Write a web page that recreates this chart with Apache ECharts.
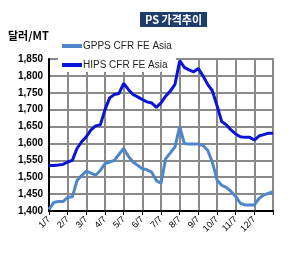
<!DOCTYPE html>
<html>
<head>
<meta charset="utf-8">
<script src="https://cdn.jsdelivr.net/npm/echarts@6/dist/echarts.min.js"></script>
<style>
  html, body { margin: 0; padding: 0; background: #fff; }
  #chart { width: 308px; height: 255px; }
</style>
</head>
<body>
<div id="chart"></div>
<script>
// weekly points, one tick label every 4 weeks
var monthLabels = ['1/7', '2/7', '3/7', '4/7', '5/7', '6/7', '7/7', '8/7', '9/7', '10/7', '11/7', '12/7', ''];
var weeks = [];
for (var i = 0; i < 49; i++) {
    weeks.push(i % 4 === 0 ? monthLabels[i / 4] : '');
}

var gpps = [1405, 1425, 1428, 1428, 1440, 1442, 1490, 1505, 1518, 1512,
            1506, 1520, 1540, 1545, 1550, 1568, 1585, 1562, 1545, 1535,
            1525, 1522, 1515, 1490, 1482, 1555, 1572, 1590, 1650, 1600,
            1598, 1598, 1598, 1594, 1580, 1545, 1492, 1476, 1470, 1458,
            1443, 1423, 1418, 1418, 1418, 1437, 1447, 1452, 1457];

var hips = [1535, 1535, 1536, 1538, 1545, 1550, 1585, 1605, 1620, 1640,
            1652, 1655, 1700, 1735, 1745, 1748, 1778, 1760, 1745, 1738,
            1730, 1723, 1720, 1707, 1720, 1740, 1755, 1775, 1845, 1825,
            1818, 1812, 1822, 1800, 1775, 1756, 1712, 1665, 1655, 1640,
            1628, 1620, 1618, 1618, 1610, 1622, 1626, 1630, 1630];

var chart = echarts.init(document.getElementById('chart'));
chart.setOption({
    animation: false,
    textStyle: { fontFamily: 'Liberation Sans' },
    title: [{
        text: 'PS 가격추이',
        left: 140,
        top: 12,
        padding: [2, 5],
        backgroundColor: '#1f3d6b',
        textStyle: { color: '#fff', fontSize: 11, fontWeight: 'bold', fontFamily: 'Noto Sans CJK KR' }
    }, {
        text: '달러/MT',
        left: 8,
        top: 30,
        padding: 0,
        textStyle: { color: '#000', fontSize: 11, fontWeight: 'bold', fontFamily: 'Noto Sans CJK KR' }
    }],
    legend: {
        orient: 'vertical',
        left: 58,
        top: 39,
        z: 1,
        itemWidth: 20,
        itemHeight: 4,
        itemGap: 9,
        icon: 'rect',
        padding: [2, 4, 2, 4],
        backgroundColor: '#fff',
        textStyle: { fontSize: 10, color: '#222', padding: [0, 0, 0, -4] },
        data: ['GPPS CFR FE Asia', 'HIPS CFR FE Asia']
    },
    grid: { left: 49, right: 35, top: 59, bottom: 44, show: true, borderColor: '#8a8a8a', borderWidth: 2 },
    xAxis: {
        type: 'category',
        data: weeks,
        boundaryGap: false,
        axisLine: { lineStyle: { color: '#000', width: 2 } },
        axisTick: { show: true, interval: 3, length: 4, lineStyle: { color: '#000' } },
        axisLabel: { interval: 3, rotate: 45, fontSize: 9, color: '#000', margin: 7 },
        splitLine: { show: true, interval: 3, lineStyle: { color: '#8a8a8a', width: 2 } }
    },
    yAxis: {
        type: 'value',
        min: 1400,
        max: 1850,
        interval: 50,
        axisLine: { show: true, lineStyle: { color: '#000', width: 2 } },
        axisTick: { show: false },
        axisLabel: {
            fontSize: 10, fontWeight: 'bold', color: '#000', margin: 6,
            formatter: function (v) { return v.toLocaleString('en-US'); }
        },
        splitLine: { show: true, lineStyle: { color: '#8a8a8a', width: 2 } }
    },
    series: [{
        name: 'GPPS CFR FE Asia',
        type: 'line',
        data: gpps,
        symbol: 'none',
        z: 3,
        itemStyle: { color: '#4f86c9' },
        lineStyle: { color: '#4f86c9', width: 3 }
    }, {
        name: 'HIPS CFR FE Asia',
        type: 'line',
        data: hips,
        symbol: 'none',
        z: 3,
        itemStyle: { color: '#0a14d6' },
        lineStyle: { color: '#0a14d6', width: 3 }
    }]
});
</script>
</body>
</html>
